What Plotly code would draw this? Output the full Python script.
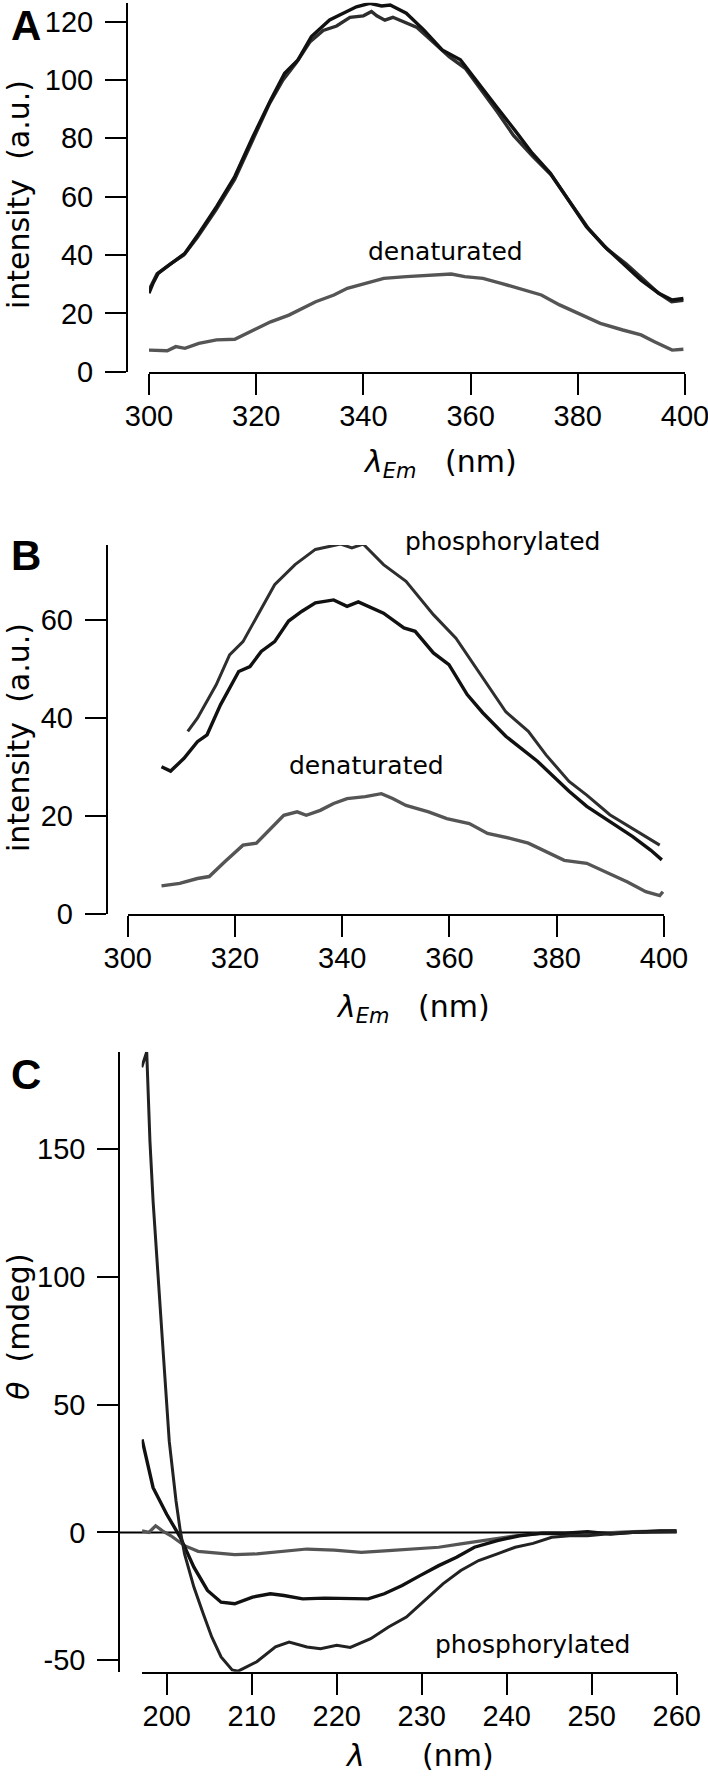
import plotly.graph_objects as go

W, H = 708, 1778

# ---------------- Panel A data ----------------
A1_x = [300, 300.8, 301.7, 304.2, 306.7, 309.3, 312.6, 316, 319.4, 322.7, 325.3, 327.8, 330.3, 333.7, 336.2,
        338.7, 341.2, 343.4, 345, 348, 351.3, 354.7, 358.1, 361.4, 364.8, 368.2, 371.5, 374.9, 378.3, 381.6,
        385, 388.4, 391.8, 395.1, 397.6, 399.7]
A1_y = [26.9, 30.5, 33.7, 37.1, 40.6, 47.4, 56.6, 66.9, 80.6, 93.1, 102.3, 106.9, 114.9, 120.6, 122.9,
        125.1, 126.3, 125.4, 125.7, 122.9, 117.1, 110.3, 106.9, 98.9, 90.9, 82.9, 74.9, 68, 58.9, 49.7,
        42.9, 37.1, 31.4, 26.9, 24.6, 25.1]
A2_x = [300, 301.5, 304, 306.5, 309, 312.5, 316, 319.5, 322.5, 325, 327.5, 330, 332.5, 335, 337.5, 340, 341.5,
        342.5, 344, 345.5, 347.5, 350, 353, 356, 359, 362, 365, 368, 371.5, 375, 378.5, 382, 385.5, 389, 392,
        395, 397.5, 399.7]
A2_y = [28, 33.5, 37, 40, 46, 55.5, 66, 80, 92, 100, 106, 113, 117, 118.5, 121.5, 122, 123.5,
        122, 120.5, 121.5, 120, 118, 113, 108, 104, 96.5, 89, 81, 74, 67.5, 58.5, 49, 42, 37, 32,
        27, 24, 24.5]
AD_x = [300, 303.4, 305, 306.7, 309.3, 312.6, 316, 319.4, 322.7, 326.1, 328.6, 331.1, 334.5, 337, 340.4, 343.8,
        348, 352.2, 356.4, 358.9, 362.3, 365.7, 369, 373.2, 376.6, 380.8, 384.2, 388.4, 391.8, 394.3, 397.6, 399.7]
AD_y = [7.4, 7.2, 8.6, 8, 9.7, 10.9, 11.1, 14.3, 17.1, 19.4, 21.7, 24, 26.3, 28.6, 30.3, 32,
        32.6, 33.1, 33.5, 32.6, 32, 30.3, 28.6, 26.3, 22.9, 19.4, 16.6, 14.3, 12.6, 10.3, 7.4, 7.7]

# ---------------- Panel B data ----------------
BP_x = [311.2, 313, 316.5, 319, 321.5, 324, 327.4, 331.2, 335, 339.7, 341.8, 343.9, 347.7, 351.9, 357, 361.2,
        365.4, 370.5, 374.7, 378, 382.3, 385.6, 389.9, 394.1, 399.2]
BP_y = [37.3, 40, 46.8, 52.9, 55.6, 60.4, 67.2, 71.3, 74.4, 75.5, 74.7, 75.5, 71.3, 67.9, 61.1, 56.3,
        49.5, 41.3, 37.3, 32.5, 27.1, 24.3, 20.3, 17.5, 14.1]
BN_x = [306.3, 308, 310.5, 313, 314.8, 317.3, 320.7, 322.8, 324.9, 327.4, 330, 332.5, 335, 338.4, 340.9, 343,
        347.7, 351.5, 353.6, 357, 359.9, 363.3, 366.2, 370.5, 376.4, 382.3, 385.6, 389, 394.1, 397.5, 399.6]
BN_y = [30.1, 29.2, 31.8, 35.2, 36.6, 42.7, 49.5, 50.5, 53.6, 55.6, 59.8, 61.8, 63.5, 64.1, 62.8, 63.7,
        61.4, 58.4, 57.7, 53.3, 50.9, 44.8, 41.1, 36.3, 31.2, 25.1, 22.0, 19.6, 15.9, 13.1, 11.1]
BD_x = [306.3, 309.7, 313, 315.2, 318.1, 321.5, 324, 326.6, 329.1, 331.6, 333.3, 335.9, 338.4, 340.9, 344.3,
        347.3, 349.4, 351.9, 356.1, 359.5, 363.7, 367.1, 371.3, 374.7, 378, 381.4, 385.6, 389.9, 393.2, 396.6,
        399.2, 399.8]
BD_y = [5.8, 6.3, 7.3, 7.7, 10.7, 14.1, 14.5, 17.5, 20.2, 20.9, 20.2, 21.2, 22.6, 23.6, 24,
        24.6, 23.6, 22.2, 20.9, 19.5, 18.5, 16.5, 15.5, 14.5, 12.7, 11, 10.4, 8.3, 6.6, 4.6,
        3.8, 4.6]

# ---------------- Panel C data ----------------
C1_x = [197.06, 197.65, 198.03, 198.4, 199.5, 200.3, 201.1, 201.6, 202.1, 203.2, 204.3, 205.3, 206.4, 207.7,
        208.4, 209.1, 210.6, 212.8, 214.4, 216.5, 218.1, 220, 221.6, 224, 226.1, 228.2, 230.4, 232.5, 234.6,
        236.7, 238.9, 241, 243.1, 245.3, 247.4, 249.5, 251.7, 254.8, 260]
C1_y = [182, 188, 153, 129.6, 74.9, 35.7, 12.3, 0.6, -8.4, -21.4, -31.8, -40.9, -48.7, -53.8,
        -54.3, -53.2, -50.6, -44.8, -42.9, -44.8, -45.5, -44.2, -45, -41.6, -37, -33.1, -26.6, -20.1, -14.9,
        -11, -8.4, -5.8, -4.3, -1.9, -1.3, -1.3, -0.6, 0, 0.4]
C2_x = [197.1, 198.4, 200, 201.6, 203.2, 204.8, 206.4, 208, 210.1, 212.2, 213.8, 216, 218.6, 221.8, 223.7,
        225.6, 227.7, 229.8, 232, 234.1, 236.2, 238.9, 241.5, 244.2, 246.9, 249.5, 252.2, 254.8, 258, 260]
C2_y = [36.4, 17.5, 7.1, -1.9, -13.6, -22.7, -27.3, -27.9, -25.3, -24, -24.7, -26, -25.7, -26, -26,
        -24, -20.8, -16.9, -13, -9.7, -5.8, -3.2, -1.3, -0.3, -0.3, 0.3, -0.6, 0, 0.6, 0.6]
C3_x = [197.1, 197.9, 198.7, 199.5, 200.5, 202.1, 203.7, 205.9, 208, 210.6, 213.3, 216.5, 219.7, 222.9, 226.1,
        229.3, 232, 234.6, 237.8, 241, 244.2, 247.4, 251.1, 254.8, 260]
C3_y = [0.6, 0, 2.6, 0.6, -1.3, -5.2, -7.4, -8.1, -8.7, -8.4, -7.4, -6.5, -6.9, -7.8, -7.1,
        -6.5, -5.8, -4.5, -3, -1.3, -0.4, -0.6, -0.3, 0.3, 0.6]

A_xticks = [300, 320, 340, 360, 380, 400]
A_yticks = [0, 20, 40, 60, 80, 100, 120]
B_yticks = [0, 20, 40, 60]
C_xticks = [200, 210, 220, 230, 240, 250, 260]
C_yticks = [-50, 0, 50, 100, 150]
C_yticklabels = ["-50", "0", "50", "100", "150"]

BLACK = "#111111"
DARK = "#2e2e2e"
GRAY = "#555555"

TICKFONT = dict(family="Liberation Sans, Arial, sans-serif", size=29, color="black")
TXTFONT = "DejaVu Sans, Verdana, sans-serif"


def px(x):
    return x / W


def py(y):
    return 1 - y / H


fig = go.Figure()

fig.add_trace(go.Scatter(x=A2_x, y=A2_y, mode="lines", line=dict(color=DARK, width=3.4), xaxis="x", yaxis="y"))
fig.add_trace(go.Scatter(x=A1_x, y=A1_y, mode="lines", line=dict(color=BLACK, width=3.4), xaxis="x", yaxis="y"))
fig.add_trace(go.Scatter(x=AD_x, y=AD_y, mode="lines", line=dict(color=GRAY, width=3.4), xaxis="x", yaxis="y"))

fig.add_trace(go.Scatter(x=BP_x, y=BP_y, mode="lines", line=dict(color=DARK, width=3), xaxis="x2", yaxis="y2"))
fig.add_trace(go.Scatter(x=BN_x, y=BN_y, mode="lines", line=dict(color=BLACK, width=3.4), xaxis="x2", yaxis="y2"))
fig.add_trace(go.Scatter(x=BD_x, y=BD_y, mode="lines", line=dict(color=GRAY, width=3.4), xaxis="x2", yaxis="y2"))

fig.add_trace(go.Scatter(x=C3_x, y=C3_y, mode="lines", line=dict(color=GRAY, width=3.2), xaxis="x3", yaxis="y3"))
fig.add_trace(go.Scatter(x=C2_x, y=C2_y, mode="lines", line=dict(color=BLACK, width=3.4), xaxis="x3", yaxis="y3"))
fig.add_trace(go.Scatter(x=C1_x, y=C1_y, mode="lines", line=dict(color="#222222", width=3), xaxis="x3", yaxis="y3"))

axis_common = dict(showgrid=False, zeroline=False, showline=True, linecolor="black", linewidth=2,
                   ticks="outside", ticklen=21, tickwidth=2, tickcolor="black", tickfont=TICKFONT,
                   fixedrange=True, automargin=False, ticklabeloverflow="allow")
xcommon = dict(axis_common, ticklabelstandoff=-4)
ycommon = dict(axis_common, ticklabelstandoff=6)

fig.update_layout(
    template="none",
    width=W, height=H,
    margin=dict(l=0, r=0, t=0, b=0, pad=0, autoexpand=False),
    paper_bgcolor="white", plot_bgcolor="white",
    showlegend=False,
    xaxis=dict(domain=[px(149), px(685)], range=[300, 400], tickvals=A_xticks, anchor="y", **xcommon),
    yaxis=dict(domain=[py(371.7), py(2.7)], range=[0, 126.5], tickvals=A_yticks, anchor="free",
               position=px(127), **ycommon),
    xaxis2=dict(domain=[px(127.7), px(664)], range=[300, 400], tickvals=A_xticks, anchor="y2", **xcommon),
    yaxis2=dict(domain=[py(914.3), py(545)], range=[0, 75.3], tickvals=B_yticks, anchor="free",
                position=px(106.7), **ycommon),
    xaxis3=dict(domain=[px(141.7), px(676.7)], range=[197.06, 260], tickvals=C_xticks, anchor="y3", **xcommon),
    yaxis3=dict(domain=[py(1671.7), py(1051.7)], range=[-54.5, 188.1], tickvals=C_yticks,
                ticktext=C_yticklabels, anchor="free", position=px(119.3), **ycommon),
)

# zero line in panel C (from the y axis to the end of the x axis)
fig.add_shape(type="line", xref="paper", yref="y3", x0=px(119.3), x1=px(676.7), y0=0, y1=0,
              line=dict(color="black", width=2), layer="below")

ann = []
# panel letters
LETTERFONT = dict(family="Liberation Sans, Arial, sans-serif", size=42, color="black")
ann.append(dict(text="<b>A</b>", xref="paper", yref="paper", x=px(9), y=1, xanchor="left", yanchor="top",
                showarrow=False, font=LETTERFONT))
for letter, yc in (("B", 555), ("C", 1074)):
    ann.append(dict(text=f"<b>{letter}</b>", xref="paper", yref="paper", x=px(9), y=py(yc),
                    xanchor="left", yanchor="middle", showarrow=False, font=LETTERFONT))
# y titles
for txt, yc in (("intensity&nbsp;&nbsp;(a.u.)", 195), ("intensity&nbsp;&nbsp;(a.u.)", 738),
                ("<i>θ</i>&nbsp;&nbsp;(mdeg)", 1327)):
    ann.append(dict(text=txt, xref="paper", yref="paper", x=px(18), y=py(yc), textangle=-90,
                    xanchor="center", yanchor="middle", showarrow=False,
                    font=dict(family=TXTFONT, size=30, color="black")))
# x titles
for txt, xl, yc in (("<i>λ<sub>Em</sub></i>&nbsp;&nbsp;&nbsp;(nm)", 361, 464),
                    ("<i>λ<sub>Em</sub></i>&nbsp;&nbsp;&nbsp;(nm)", 334, 1008),
                    ("<i>λ</i>&nbsp;&nbsp;&nbsp;&nbsp;&nbsp;&nbsp;(nm)", 343, 1755)):
    ann.append(dict(text=txt, xref="paper", yref="paper", x=px(xl), y=py(yc),
                    xanchor="left", yanchor="middle", showarrow=False,
                    font=dict(family=TXTFONT, size=30, color="black")))
# curve labels
ann.append(dict(text="denaturated", xref="x", yref="y", x=355.4, y=41.3, showarrow=False,
                xanchor="center", yanchor="middle", font=dict(family=TXTFONT, size=25, color="black")))
ann.append(dict(text="phosphorylated", xref="x2", yref="paper", x=369.95, y=py(541), showarrow=False,
                xanchor="center", yanchor="middle", font=dict(family=TXTFONT, size=25, color="black")))
ann.append(dict(text="denaturated", xref="x2", yref="y2", x=344.6, y=30.4, showarrow=False,
                xanchor="center", yanchor="middle", font=dict(family=TXTFONT, size=25, color="black")))
ann.append(dict(text="phosphorylated", xref="x3", yref="y3", x=242.98, y=-43.7, showarrow=False,
                xanchor="center", yanchor="middle", font=dict(family=TXTFONT, size=25, color="black")))
fig.update_layout(annotations=ann)

fig.write_html("out.html",
               config={"displayModeBar": False, "staticPlot": True},
               post_script="document.body.style.margin='0';document.body.style.padding='0';")
